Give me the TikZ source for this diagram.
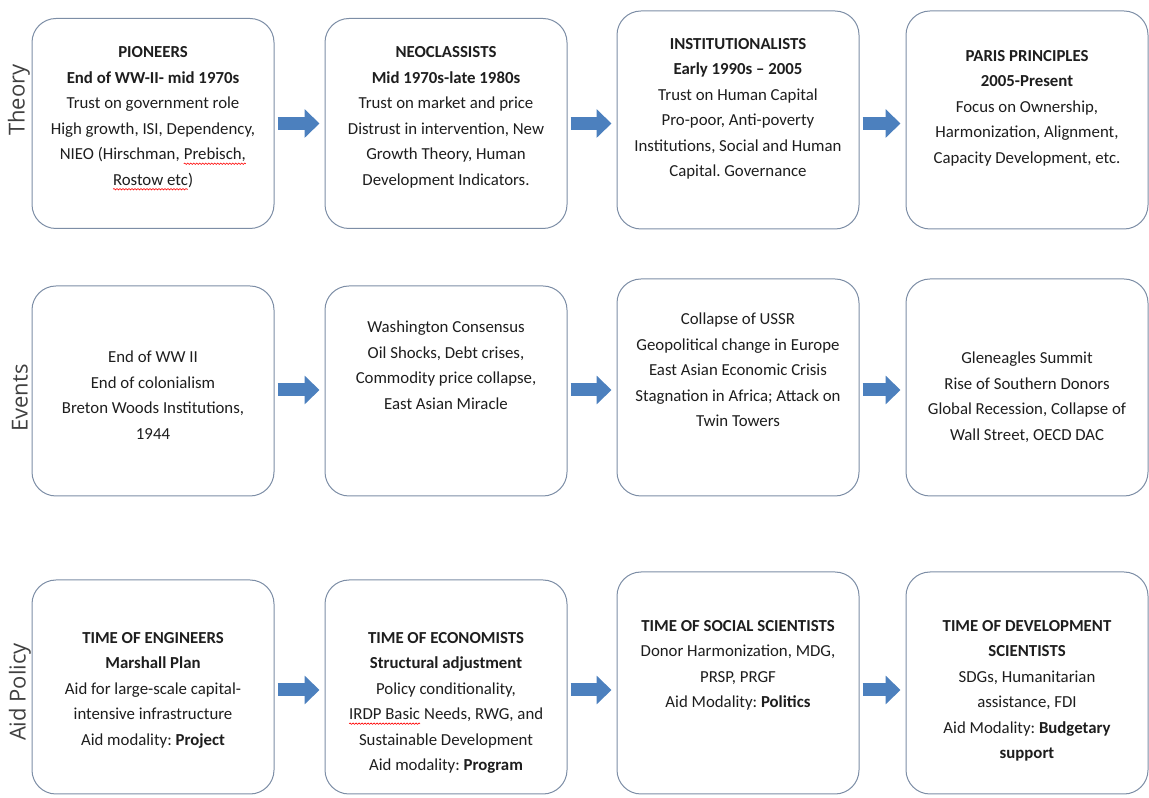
\documentclass[tikz,border=0pt]{standalone}
\usepackage{fontspec}
\setmainfont{Carlito}
\newfontfamily\sidefont{Open Sans}
\frenchspacing
\usetikzlibrary{positioning,arrows.meta,decorations.pathmorphing}
\definecolor{boxline}{RGB}{125,142,166}
\definecolor{flowblue}{RGB}{76,128,190}
\definecolor{inkgray}{RGB}{30,30,30}
\newcommand{\spellwave}[1]{\tikz[baseline=(w.base)]{\node[inner sep=0pt, outer sep=0pt] (w) {#1}; \draw[red, line width=0.6pt, decorate, decoration={snake, amplitude=0.7pt, segment length=3pt}] ([yshift=-4pt]w.base west) -- ([yshift=-4pt]w.base east);}}

\begin{document}
\begin{tikzpicture}[x=1pt,y=1pt,
	stage/.style={draw=boxline, line width=1pt, fill=white, rounded corners=24pt, minimum width=242pt, inner sep=0pt},
	stagetext/.style={anchor=north, align=center, inner sep=0pt, text=inkgray, font=\fontsize{16.8}{25.5}\selectfont},
	rowname/.style={rotate=90, text=black!75, font=\sidefont\fontsize{22}{26}\selectfont},
	flow/.style={line width=13pt, draw=flowblue, -{Triangle[length=15pt,width=28pt]}, shorten <=3pt, shorten >=5pt}]
	\useasboundingbox (0,0) rectangle (1149,798);

	% row names
	\node[rowname] (theory) at (19,698) {Theory};
	\node[rowname] (events) at (20,400) {Events};
	\node[rowname] (aidpolicy) at (20,106) {Aid Policy};

	% boxes
	\node[stage, minimum height=210pt] (b11) at (153,674.5) {};
	\node[stage, minimum height=210pt] (b12) at (446,674.5) {};
	\node[stage, minimum height=218pt] (b13) at (738,678) {};
	\node[stage, minimum height=218pt] (b14) at (1027,678) {};
	\node[stage, minimum height=210pt] (b21) at (153,407) {};
	\node[stage, minimum height=210pt] (b22) at (446,407) {};
	\node[stage, minimum height=217pt] (b23) at (738,410.5) {};
	\node[stage, minimum height=217pt] (b24) at (1027,410.5) {};
	\node[stage, minimum height=214pt] (b31) at (153,111) {};
	\node[stage, minimum height=214pt] (b32) at (446,111) {};
	\node[stage, minimum height=222pt] (b33) at (738,115) {};
	\node[stage, minimum height=222pt] (b34) at (1027,115) {};

	% texts
	\node[stagetext, below=28.5pt of b11.north] (t11) {\textbf{PIONEERS}\\ \textbf{End of WW-II- mid 1970s}\\ Trust on government role\\ High growth, ISI, Dependency,\\ NIEO (Hirschman, \spellwave{Prebisch,}\\ \spellwave{Rostow etc})};
	\node[stagetext, below=28.5pt of b12.north] (t12) {\textbf{NEOCLASSISTS}\\ \textbf{Mid 1970s-late 1980s}\\ Trust on market and price\\ Distrust in intervention, New\\ Growth Theory, Human\\ Development Indicators.};
	\node[stagetext, below=27.5pt of b13.north] (t13) {\textbf{INSTITUTIONALISTS}\\ \textbf{Early 1990s -- 2005}\\ Trust on Human Capital\\ Pro-poor, Anti-poverty\\ Institutions, Social and Human\\ Capital. Governance};
	\node[stagetext, below=39.5pt of b14.north] (t14) {\textbf{PARIS PRINCIPLES}\\ \textbf{2005-Present}\\ Focus on Ownership,\\ Harmonization, Alignment,\\ Capacity Development, etc.};
	\node[stagetext, below=65.5pt of b21.north] (t21) {End of WW II\\ End of colonialism\\ Breton Woods Institutions,\\ 1944};
	\node[stagetext, below=35.5pt of b22.north] (t22) {Washington Consensus\\ Oil Shocks, Debt crises,\\ Commodity price collapse,\\ East Asian Miracle};
	\node[stagetext, below=34.5pt of b23.north] (t23) {Collapse of USSR\\ Geopolitical change in Europe\\ East Asian Economic Crisis\\ Stagnation in Africa; Attack on\\ Twin Towers};
	\node[stagetext, below=73.5pt of b24.north] (t24) {Gleneagles Summit\\ Rise of Southern Donors\\ Global Recession, Collapse of\\ Wall Street, OECD DAC};
	\node[stagetext, below=52.5pt of b31.north] (t31) {\textbf{TIME OF ENGINEERS}\\ \textbf{Marshall Plan}\\ Aid for large-scale capital-\\ intensive infrastructure\\ Aid modality: \textbf{Project}};
	\node[stagetext, below=52.5pt of b32.north] (t32) {\textbf{TIME OF ECONOMISTS}\\ \textbf{Structural adjustment}\\ Policy conditionality,\\ \spellwave{IRDP Basic} Needs, RWG, and\\ Sustainable Development\\ Aid modality: \textbf{Program}};
	\node[stagetext, below=48.5pt of b33.north] (t33) {\textbf{TIME OF SOCIAL SCIENTISTS}\\ Donor Harmonization, MDG,\\ PRSP, PRGF\\ Aid Modality: \textbf{Politics}};
	\node[stagetext, below=48.5pt of b34.north] (t34) {\textbf{TIME OF DEVELOPMENT}\\ \textbf{SCIENTISTS}\\ SDGs, Humanitarian\\ assistance, FDI\\ Aid Modality: \textbf{Budgetary}\\ \textbf{support}};

	% arrows
	\draw[flow] (b11.east) -- (b11.east -| b12.west);
	\draw[flow] (b12.east) -- (b12.east -| b13.west);
	\draw[flow] ([yshift=-3.5pt]b13.east) -- ([yshift=-3.5pt]b13.east -| b14.west);
	\draw[flow] ([yshift=1pt]b21.east) -- ([yshift=1pt]b21.east -| b22.west);
	\draw[flow] ([yshift=1pt]b22.east) -- ([yshift=1pt]b22.east -| b23.west);
	\draw[flow] ([yshift=-2.5pt]b23.east) -- ([yshift=-2.5pt]b23.east -| b24.west);
	\draw[flow] ([yshift=-3pt]b31.east) -- ([yshift=-3pt]b31.east -| b32.west);
	\draw[flow] ([yshift=-3pt]b32.east) -- ([yshift=-3pt]b32.east -| b33.west);
	\draw[flow] ([yshift=-7pt]b33.east) -- ([yshift=-7pt]b33.east -| b34.west);
\end{tikzpicture}
\end{document}
